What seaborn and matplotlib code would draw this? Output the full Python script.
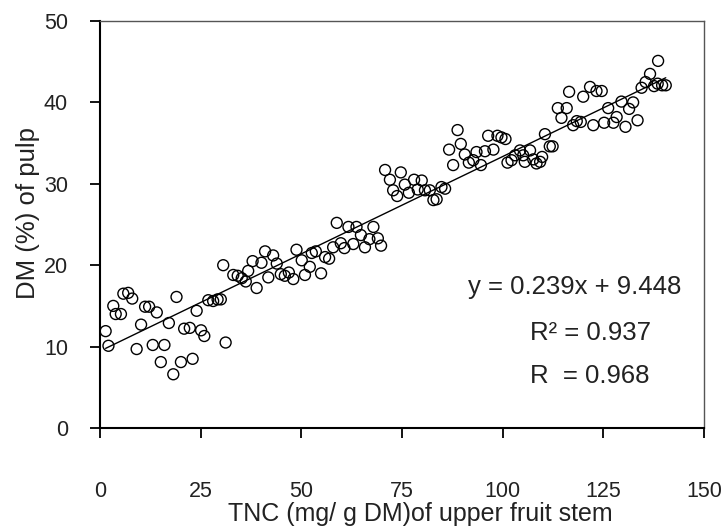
import numpy as np
import pandas as pd
import matplotlib
matplotlib.use("Agg")
import matplotlib.pyplot as plt
import seaborn as sns

# ---- data ----
tnc = [1.4, 2.1, 3.3, 3.9, 5.2, 5.8, 7.0, 8.0, 9.1, 10.2, 11.2, 12.2, 13.1, 14.1, 15.1, 16.0,
       17.1, 18.2, 19.0, 20.1, 20.9, 22.3, 23.0, 24.0, 25.1, 25.9, 26.9, 28.1, 29.2, 30.0, 30.6, 31.2,
       33.1, 34.2, 35.2, 36.2, 36.8, 37.9, 38.9, 40.1, 41.0, 41.8, 43.0, 43.9, 44.9, 45.9, 46.9, 48.0,
       48.8, 50.1, 50.9, 52.1, 52.6, 53.6, 54.9, 55.9, 56.9, 57.9, 58.8, 59.8, 60.7,
       61.7, 62.9, 63.7, 64.8, 65.8, 66.9, 67.9, 69.0, 69.8, 70.8, 72.0, 72.8, 73.8, 74.7, 75.7, 76.7,
       78.0, 78.9, 79.9, 80.7, 81.9, 82.8, 83.6, 84.8, 85.7, 86.7, 87.7, 88.8, 89.6,
       90.6, 91.6, 92.7, 93.5, 94.6, 95.6, 96.4, 97.7, 98.7, 99.7, 100.7, 101.2, 102.2, 103.1, 104.3,
       105.1, 105.5, 106.8, 107.6, 108.4, 109.3, 109.8, 110.5, 111.7, 112.4, 113.7, 114.6, 115.9, 116.5,
       117.5, 118.4, 119.4, 120.0,
       121.7, 122.5, 123.3, 124.6, 125.2, 126.2, 127.5, 128.3, 129.5, 130.5, 131.4, 132.4, 133.5, 134.5,
       135.5, 136.6, 137.6, 138.5, 138.6, 139.6, 140.5]
dm = [11.9, 10.1, 15.0, 14.0, 14.0, 16.5, 16.6, 15.9, 9.7, 12.7, 14.9, 14.9, 10.2, 14.2, 8.1, 10.2,
      12.9, 6.6, 16.1, 8.1, 12.2, 12.3, 8.5, 14.4, 12.0, 11.3, 15.7, 15.6, 15.8, 15.8, 20.0, 10.5,
      18.8, 18.7, 18.4, 18.0, 19.3, 20.5, 17.2, 20.3, 21.7, 18.5, 21.2, 20.2, 18.9, 18.7, 19.1, 18.3,
      21.9, 20.6, 18.8, 19.8, 21.5, 21.7, 19.0, 21.0, 20.8, 22.2, 25.2, 22.7, 22.1,
      24.7, 22.6, 24.7, 23.7, 22.2, 23.2, 24.7, 23.3, 22.4, 31.7, 30.5, 29.2, 28.5, 31.4, 29.9, 28.9,
      30.5, 29.3, 30.4, 29.2, 29.2, 28.0, 28.1, 29.6, 29.4, 34.2, 32.3, 36.6, 34.9,
      33.6, 32.6, 32.9, 33.9, 32.3, 34.0, 35.9, 34.2, 35.9, 35.7, 35.5, 32.6, 32.9, 33.5, 34.1,
      33.5, 32.7, 34.1, 33.0, 32.5, 32.7, 33.3, 36.1, 34.6, 34.6, 39.3, 38.1, 39.3, 41.3,
      37.2, 37.7, 37.6, 40.7,
      41.9, 37.2, 41.4, 41.4, 37.5, 39.3, 37.5, 38.2, 40.1, 37.0, 39.2, 40.0, 37.8, 41.8,
      42.5, 43.5, 42.0, 42.3, 45.1, 42.1, 42.1]

slope = 0.239
intercept = 9.448
x_ticks = [0, 25, 50, 75, 100, 125, 150]
y_ticks = [0, 10, 20, 30, 40, 50]
x_label = "TNC (mg/ g DM)of upper fruit stem"
y_label = "DM (%) of pulp"
eq_text = "y = 0.239x + 9.448"
r2_text = "R\u00b2 = 0.937"
r_text = "R  = 0.968"

# ---- plotting ----
sns.set_theme(style="white")
plt.rcParams["font.family"] = ["Liberation Sans", "DejaVu Sans"]

fig = plt.figure(figsize=(7.25, 5.3), dpi=100)
ax = fig.add_axes([100 / 725, 102 / 530, 604 / 725, 407 / 530])

df = pd.DataFrame({"TNC": tnc, "DM": dm})
sns.scatterplot(data=df, x="TNC", y="DM", ax=ax, s=62, edgecolor="black",
                linewidth=1.0, legend=False, zorder=3)
ax.collections[0].set_facecolor("none")
ax.collections[0].set_edgecolor("black")

xfit = np.array([df["TNC"].min(), df["TNC"].max()])
fit_df = pd.DataFrame({"x": xfit, "y": slope * xfit + intercept})
sns.lineplot(data=fit_df, x="x", y="y", ax=ax, color="black", linewidth=1.0, zorder=2)

ax.set_xlim(0, 150)
ax.set_ylim(0, 50)
ax.set_xticks(x_ticks)
ax.set_yticks(y_ticks)
ax.set_xticklabels([str(v) for v in x_ticks])
ax.set_yticklabels([str(v) for v in y_ticks])

ax.tick_params(axis="x", direction="out", length=7, width=1.3, colors="black",
               labelsize=15.5, pad=31, bottom=True, top=False, labelcolor="#222222")
ax.tick_params(axis="y", direction="out", length=7, width=1.3, colors="black",
               labelsize=15.5, pad=16, left=True, right=False, labelcolor="#222222")

ax.set_xlabel(x_label, fontsize=18, color="#222222")
ax.set_ylabel(y_label, fontsize=18.5, color="#222222")
ax.xaxis.set_label_coords(0.53, -0.182)
ax.yaxis.set_label_coords(-0.099, 0.528)

for side in ["left", "bottom"]:
    ax.spines[side].set_color("black")
    ax.spines[side].set_linewidth(1.5)
for side in ["top", "right"]:
    ax.spines[side].set_color("#555555")
    ax.spines[side].set_linewidth(1.0)
    ax.spines[side].set_visible(True)

ax.text(91.4, 17.3, eq_text, fontsize=18.5, ha="left", va="center", color="#222222")
ax.text(106.8, 11.7, r2_text, fontsize=18.5, ha="left", va="center", color="#222222")
ax.text(106.8, 6.4, r_text, fontsize=18.5, ha="left", va="center", color="#222222")

fig.savefig("out.png", dpi=100)
